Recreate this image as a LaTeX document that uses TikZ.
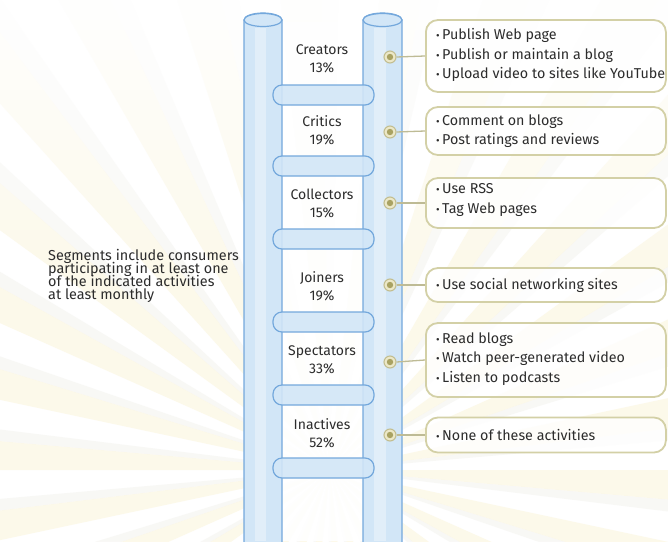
\documentclass[tikz,border=0pt]{standalone}
\usepackage{fontspec}
\setmainfont{Fira Sans}
\definecolor{txt}{HTML}{2C2C2C}
\definecolor{polefill}{HTML}{D2E6F7}
\definecolor{poleedge}{HTML}{74A8DC}
\definecolor{boxedge}{HTML}{D3D0A6}
\definecolor{dotfill}{HTML}{ECE8C8}
\definecolor{dotcore}{HTML}{A9A262}
\definecolor{ray}{HTML}{FBF5DC}
\definecolor{raygrey}{HTML}{EFEEE8}
\newcommand{\notefont}{\fontsize{14.4}{13}\selectfont\lineskiplimit=-20pt\relax}
\tikzset{
  pole/.style={fill=polefill, draw=poleedge, line width=1.2pt},
  rung/.style={fill=polefill, fill opacity=0.9, draw=poleedge, line width=1.2pt, rounded corners=9pt},
  seglabel/.style={text=txt, align=center, font=\fontsize{14}{18}\selectfont, inner sep=0pt},
  actbox/.style={draw=boxedge, line width=1.8pt, rounded corners=12pt, fill=white, fill opacity=0.8,
     minimum width=240pt, inner sep=0pt, anchor=west},
  acttext/.style={text=txt, align=left, inner sep=0pt, anchor=west, font=\fontsize{14.3}{19.5}\selectfont},
  dotring/.style={circle, fill=dotfill, draw=dotcore!70, line width=1.1pt, minimum size=12pt, inner sep=0pt},
  conn/.style={draw=boxedge!90!black, line width=1.3pt},
  note/.style={text=txt, align=left, anchor=north west, inner sep=0pt, font=\notefont}
}
\newcommand{\bul}{{\fontsize{11}{11}\selectfont •}\,}
\begin{document}
\begin{tikzpicture}[x=1pt,y=-1pt]
\useasboundingbox (0,0) rectangle (668,541);
\fill[white] (0,0) rectangle (668,541);
% sunburst background
\begin{scope}
\clip (0,0) rectangle (668,541);
\foreach \a in {0,12,...,348} {
  \fill[ray, opacity=0.6] (330,470) -- ++(\a:700) arc[start angle=\a, end angle=\a+5, radius=700] -- cycle;
  \fill[raygrey, opacity=0.4] (330,470) -- ++(\a+5:700) arc[start angle=\a+5, end angle=\a+7, radius=700] -- cycle;
}
% fade the rays out towards the top
\foreach \k in {0,...,24} {
  \fill[white, opacity={0.95-0.035*\k}] (0,{10*\k}) rectangle (668,{10*\k+10});
}
\end{scope}
% space between poles
\fill[white, opacity=0.9] (282,22) rectangle (363,541);
% poles
\path[pole] (244,20) -- (244,545) -- (282,545) -- (282,20) arc[start angle=0, end angle=-180, x radius=19, y radius=7];
\draw[pole] (263,20) ellipse[x radius=19, y radius=6.5];
\path[pole] (363,20) -- (363,545) -- (402,545) -- (402,20) arc[start angle=0, end angle=-180, x radius=19.5, y radius=7];
\draw[pole] (382.5,20) ellipse[x radius=19.5, y radius=6.5];
% light inner stripes
\fill[white, opacity=0.35] (255,28) rectangle (266,541);
\fill[white, opacity=0.35] (374,28) rectangle (386,541);
% rungs
\foreach \y in {95,166,239,322,395,468} {
  \draw[rung] (273,\y-10) rectangle (374,\y+10);
}
% segment labels
\node[seglabel] (l1) at (322,59) {Creators\\13\%};
\node[seglabel] (l2) at (322,130) {Critics\\19\%};
\node[seglabel] (l3) at (322,203) {Collectors\\15\%};
\node[seglabel] (l4) at (322,286) {Joiners\\19\%};
\node[seglabel] (l5) at (322,360) {Spectators\\33\%};
\node[seglabel] (l6) at (322,433) {Inactives\\52\%};
% dots
\foreach \i/\y in {1/57,2/132,3/203,4/285,5/362,6/435} {
  \node[dotring] (d\i) at (390,\y) {};
  \fill[dotcore] (d\i) circle (3.2pt);
}
% activity boxes
\node[actbox, minimum height=72pt] (b1) at (425,56) {};
\node[actbox, minimum height=48pt] (b2) at (425,131) {};
\node[actbox, minimum height=50pt] (b3) at (425,203) {};
\node[actbox, minimum height=34pt] (b4) at (425,285) {};
\node[actbox, minimum height=74pt] (b5) at (425,360) {};
\node[actbox, minimum height=35pt] (b6) at (425,435) {};
\node[acttext] (t1) at (436,55) {\bul Publish Web page\\\bul Publish or maintain a blog\\\bul Upload video to sites like YouTube};
\node[acttext] (t2) at (436,131) {\bul Comment on blogs\\\bul Post ratings and reviews};
\node[acttext] (t3) at (436,200) {\bul Use RSS\\\bul Tag Web pages};
\node[acttext] (t4) at (436,285) {\bul Use social networking sites};
\node[acttext] (t5) at (436,359) {\bul Read blogs\\\bul Watch peer-generated video\\\bul Listen to podcasts};
\node[acttext] (t6) at (436,435) {\bul None of these activities};
% connectors
\foreach \i in {1,...,6} {
  \draw[conn] (d\i.east) -- (b\i.west);
}
% note
\node[note] (note) at (48,249) {Segments include consumers\\participating in at least one\\of the indicated activities\\at least monthly};
\end{tikzpicture}
\end{document}
